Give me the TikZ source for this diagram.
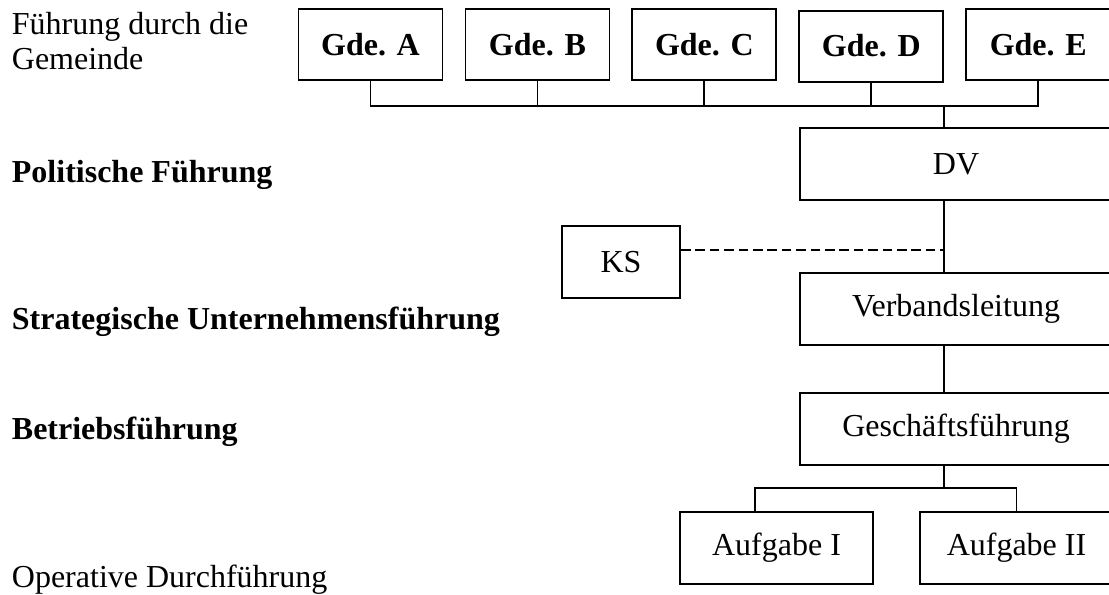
\documentclass[tikz,border=0pt]{standalone}
\usepackage{fontspec}
\setmainfont{Liberation Serif}
\usetikzlibrary{positioning}

\begin{document}
\begin{tikzpicture}[x=0.375pt, y=-0.375pt, line width=0.7pt, font=\fontsize{12}{14.2}\selectfont]
\tikzstyle{gemeinde}=[draw, shape=rectangle, minimum height=26.6pt, minimum width=54pt, inner sep=0pt, font=\fontsize{12}{14.2}\selectfont\bfseries]
\tikzstyle{organ}=[draw, shape=rectangle, minimum height=27pt, inner sep=0pt]
\tikzstyle{ebene}=[anchor=base west, inner sep=0pt]
\useasboundingbox (0,0) rectangle (1109,594);
\clip (0,0) rectangle (1109,594);

\node[ebene, align=left, font=\fontsize{12}{13.1}\selectfont] (l0) at (11,69) {Führung durch die\\Gemeinde};
\node[ebene, font=\fontsize{12}{14.2}\selectfont\bfseries] (l1) at (11,182.7) {Politische Führung};
\node[ebene, font=\fontsize{12}{14.2}\selectfont\bfseries] (l2) at (11,329) {Strategische Unternehmensführung};
\node[ebene, font=\fontsize{12}{14.2}\selectfont\bfseries] (l3) at (11,439) {Betriebsführung};
\node[ebene] (l4) at (11,587) {Operative Durchführung};

\node[gemeinde] (0) at (370.5,44.5) {Gde. A};
\node[gemeinde] (1) [right=7.9pt of 0] {Gde. B};
\node[gemeinde] (2) [right=7.9pt of 1] {Gde. C};
\node[gemeinde, yshift=-0.6pt] (3) [right=7.9pt of 2] {Gde. D};
\node[gemeinde, yshift=0.6pt] (4) [right=7.9pt of 3] {Gde. E};

\node[organ, minimum width=117pt] (5) at (956,164) {DV};
\node[organ, minimum width=44.25pt] (6) at (621,262) {KS};
\node[organ, minimum width=117pt] (7) [below=26.7pt of 5] {Verbandsleitung};
\node[organ, minimum width=117pt] (8) [below=17.3pt of 7] {Geschäftsführung};
\node[organ, minimum width=72.4pt] (9) at (776.5,548) {Aufgabe I};
\node[organ, minimum width=72.4pt] (10) [right=16.9pt of 9] {Aufgabe II};

\coordinate (bus) at (944,106);
\coordinate (gabel) at (944,488);

\draw (0.south) |- (bus) -| (4.south);
\foreach \i in {1,2,3}
  \draw (\i.south) -- (\i.south |- bus);
\draw (bus) -- (bus |- 5.north);
\draw (5.south -| bus) -- (7.north -| bus);
\draw[dash pattern=on 3.6pt off 1.8pt] ([yshift=4.5pt]6.east) -- ([yshift=4.5pt]6.east -| bus);
\draw (7.south -| bus) -- (8.north -| bus);
\draw (8.south -| bus) -- (gabel);
\draw ([xshift=-8pt]9.north) |- (gabel) -| (10.north);

\end{tikzpicture}
\end{document}
